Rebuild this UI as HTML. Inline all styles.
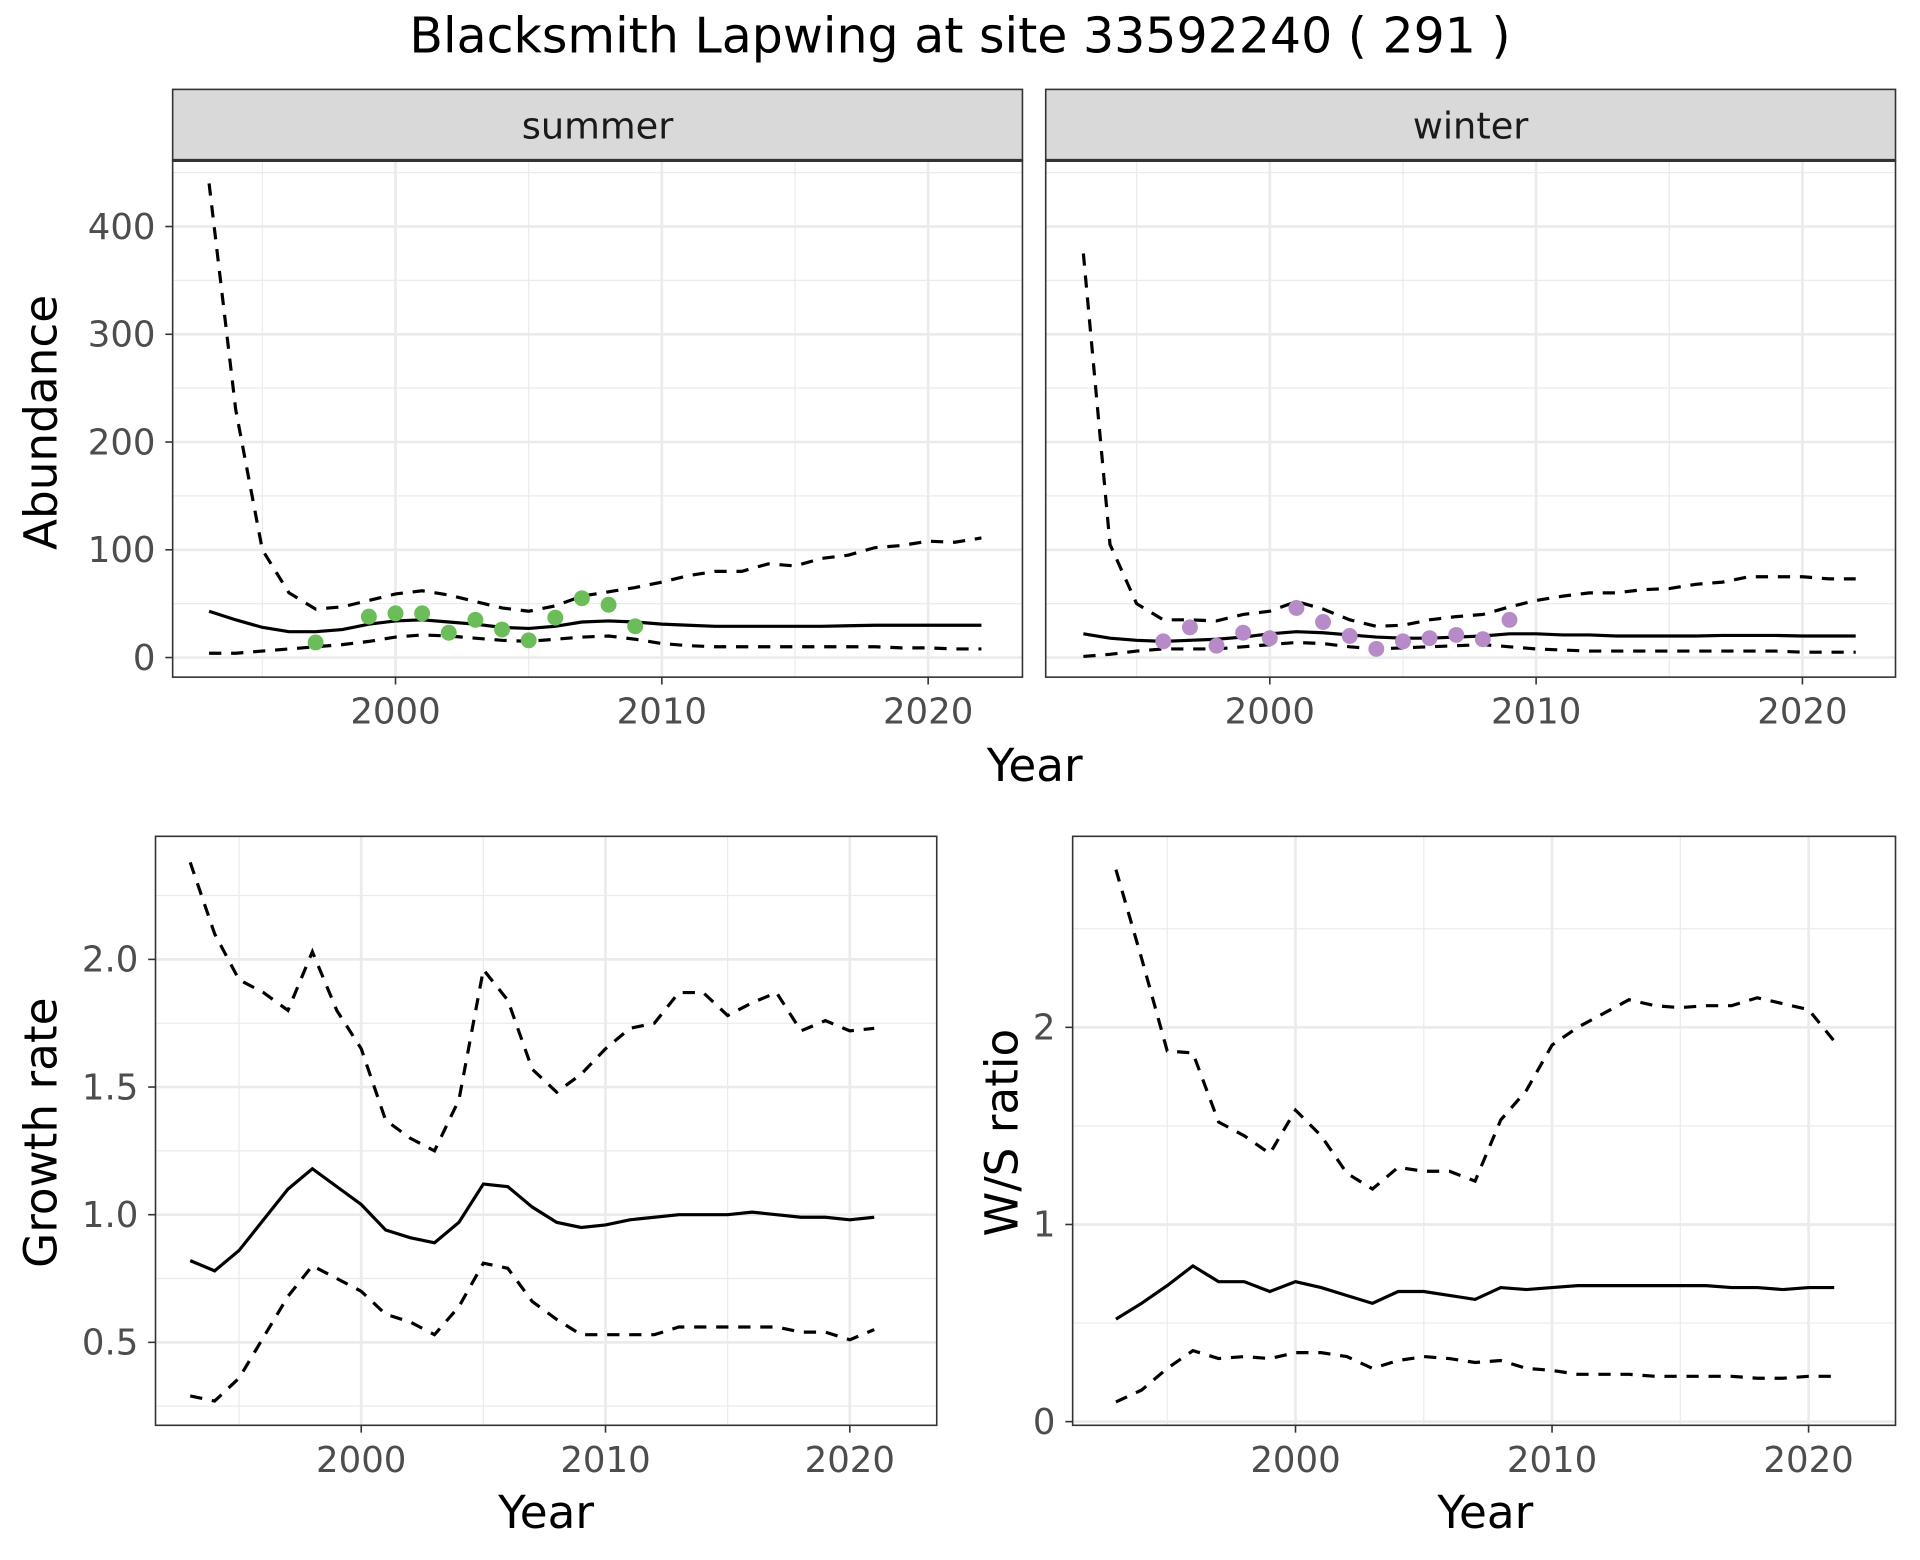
<!DOCTYPE html>
<html><head><meta charset="utf-8"><style>html,body{margin:0;padding:0;background:#fff}svg{display:block}</style></head>
<body>
<svg id="s" xmlns="http://www.w3.org/2000/svg" width="1920" height="1560" viewBox="0 0 1568 1274" preserveAspectRatio="none" font-family="DejaVu Sans, Liberation Sans, sans-serif">
<rect width="1568" height="1274" fill="#fff"/>
<text x="784" y="43" font-size="40" text-anchor="middle" fill="#000">Blacksmith Lapwing at site 33592240 ( 291 )</text>
<text x="845" y="638" font-size="37" text-anchor="middle">Year</text>
<text x="446" y="1248" font-size="37" text-anchor="middle">Year</text>
<text x="1213" y="1248" font-size="37" text-anchor="middle">Year</text>
<text transform="translate(46,345) rotate(-90)" font-size="37" text-anchor="middle">Abundance</text>
<text transform="translate(46,925) rotate(-90)" font-size="37" text-anchor="middle">Growth rate</text>
<text transform="translate(831,925) rotate(-90)" font-size="37" text-anchor="middle">W/S ratio</text>
</svg>
<script>
const s=document.getElementById('s'),NS='http://www.w3.org/2000/svg';
function el(t,a,txt){const e=document.createElementNS(NS,t);for(const k in a)e.setAttribute(k,a[k]);if(txt!==undefined)e.textContent=txt;s.appendChild(e);return e;}
function panel(o){
 const X=v=>o.x2000+(v-2000)*o.px, Y=v=>o.y0-(v-o.v0)*o.py;
 el('rect',{x:o.l,y:o.t,width:o.r-o.l,height:o.b-o.t,fill:'#fff'});
 for(const g of o.ymin)el('line',{x1:o.l,x2:o.r,y1:Y(g),y2:Y(g),stroke:'#ebebeb','stroke-width':1});
 for(const g of [1995,2005,2015])el('line',{x1:X(g),x2:X(g),y1:o.t,y2:o.b,stroke:'#ebebeb','stroke-width':1});
 for(const g of o.ymaj)el('line',{x1:o.l,x2:o.r,y1:Y(g),y2:Y(g),stroke:'#ebebeb','stroke-width':2.2});
 for(const g of [2000,2010,2020])el('line',{x1:X(g),x2:X(g),y1:o.t,y2:o.b,stroke:'#ebebeb','stroke-width':2.2});
 const line=(d,dash)=>el('polyline',{points:d.map((v,i)=>X(1993+i)+','+Y(v)).join(' '),fill:'none',stroke:'#000','stroke-width':2.6,'stroke-dasharray':dash?'10,8':'none'});
 line(o.up,1);line(o.lo,1);line(o.m,0);
 if(o.pts)for(const [yr,v] of o.pts)el('circle',{cx:X(yr),cy:Y(v),r:6.5,fill:o.col});
 el('rect',{x:o.l,y:o.t,width:o.r-o.l,height:o.b-o.t,fill:'none',stroke:'#333','stroke-width':1.3});
 for(const g of [2000,2010,2020]){el('line',{x1:X(g),x2:X(g),y1:o.b,y2:o.b+6,stroke:'#333','stroke-width':1.3});
  el('text',{x:X(g),y:o.b+38,'font-size':29,'text-anchor':'middle',fill:'#4d4d4d'},String(g));}
 if(o.lab)for(const g of o.ymaj){el('line',{x1:o.l-6,x2:o.l,y1:Y(g),y2:Y(g),stroke:'#333','stroke-width':1.3});
  el('text',{x:o.l-14,y:Y(g)+10,'font-size':29,'text-anchor':'end',fill:'#4d4d4d'},o.fmt(g));}
 if(o.strip){el('rect',{x:o.l,y:73,width:o.r-o.l,height:o.t-73,fill:'#d9d9d9',stroke:'#333','stroke-width':1.3});
  el('line',{x1:o.l,x2:o.r,y1:o.t,y2:o.t,stroke:'#333','stroke-width':2.5});
  el('text',{x:(o.l+o.r)/2,y:113,'font-size':30,'text-anchor':'middle',fill:'#1a1a1a'},o.strip);}
}
const sm=[43,35,28,24,24,26,31,34,35,33,31,28,27,29,33,34,33,31,30,29,29,29,29,29,29.5,30,30,30,30,30];
const su=[440,230,100,60,45,47,53,59,62,58,52,46,43,48,57,61,65,70,76,80,80,87,85,92,95,102,104,108,107,111];
const sl=[4,4,6,8,10,12,15,19,21,20,18,16,15,17,19,20,17,13,11,10,10,10,10,10,10,10,9,9,8,8];
const wm=[22,18,16,15,16,17,19,22,24,23,21,19,18,18,19,20,22,22,21,21,20,20,20,20,20.5,20.5,20.5,20,20,20];
const wu=[375,105,50,35,35,34,40,43,52,45,35,29,30,35,38,40,47,53,57,60,60,63,64,68,70,75,75,75,73,73];
const wl=[1,3,6,8,8,8,10,12,14,13,10,8,9,10,11,12,10,8,7,6,6,6,6,6,6,6,6,5,5,5];
const tick=[0,100,200,300,400],tmin=[50,150,250,350,450];
panel({l:141,r:835,t:131,b:553,x2000:323,px:21.75,y0:537,v0:0,py:0.88,ymaj:tick,ymin:tmin,lab:1,fmt:String,strip:'summer',m:sm,up:su,lo:sl,col:'#6abd58',
 pts:[[1997,14],[1999,38],[2000,41],[2001,41],[2002,23],[2003,35],[2004,26],[2005,16],[2006,37],[2007,55],[2008,49],[2009,29]]});
panel({l:854,r:1548,t:131,b:553,x2000:1037,px:21.75,y0:537,v0:0,py:0.88,ymaj:tick,ymin:tmin,lab:0,strip:'winter',m:wm,up:wu,lo:wl,col:'#b68bc8',
 pts:[[1996,15],[1997,28],[1998,11],[1999,23],[2000,18],[2001,46],[2002,33],[2003,20],[2004,8],[2005,15],[2006,18],[2007,21],[2008,17],[2009,35]]});
const gm=[0.82,0.78,0.86,0.98,1.10,1.18,1.11,1.04,0.94,0.91,0.89,0.97,1.12,1.11,1.03,0.97,0.95,0.96,0.98,0.99,1.00,1.00,1.00,1.01,1.00,0.99,0.99,0.98,0.99];
const gu=[2.38,2.10,1.92,1.87,1.80,2.03,1.80,1.65,1.37,1.30,1.25,1.45,1.96,1.84,1.57,1.48,1.55,1.65,1.73,1.75,1.87,1.87,1.78,1.83,1.87,1.72,1.76,1.72,1.73];
const gl=[0.29,0.27,0.36,0.52,0.68,0.80,0.75,0.70,0.61,0.58,0.53,0.64,0.81,0.79,0.66,0.59,0.53,0.53,0.53,0.53,0.56,0.56,0.56,0.56,0.56,0.54,0.54,0.51,0.55];
panel({l:127,r:765,t:683,b:1164,x2000:295,px:19.95,y0:992,v0:1,py:208.5,ymaj:[0.5,1,1.5,2],ymin:[0.25,0.75,1.25,1.75,2.25],lab:1,fmt:v=>v.toFixed(1),m:gm,up:gu,lo:gl});
const rm=[0.52,0.60,0.69,0.79,0.71,0.71,0.66,0.71,0.68,0.64,0.60,0.66,0.66,0.64,0.62,0.68,0.67,0.68,0.69,0.69,0.69,0.69,0.69,0.69,0.68,0.68,0.67,0.68,0.68];
const ru=[2.80,2.35,1.88,1.87,1.52,1.45,1.36,1.58,1.45,1.26,1.18,1.29,1.27,1.27,1.22,1.53,1.68,1.91,2.00,2.07,2.14,2.11,2.10,2.11,2.11,2.15,2.12,2.09,1.93];
const rl=[0.10,0.16,0.27,0.36,0.32,0.33,0.32,0.35,0.35,0.33,0.27,0.31,0.33,0.32,0.30,0.31,0.27,0.26,0.24,0.24,0.24,0.23,0.23,0.23,0.23,0.22,0.22,0.23,0.23];
panel({l:876,r:1548,t:683,b:1164,x2000:1058,px:20.95,y0:1161,v0:0,py:161,ymaj:[0,1,2],ymin:[0.5,1.5,2.5],lab:1,fmt:String,m:rm,up:ru,lo:rl});
</script>
</body></html>
